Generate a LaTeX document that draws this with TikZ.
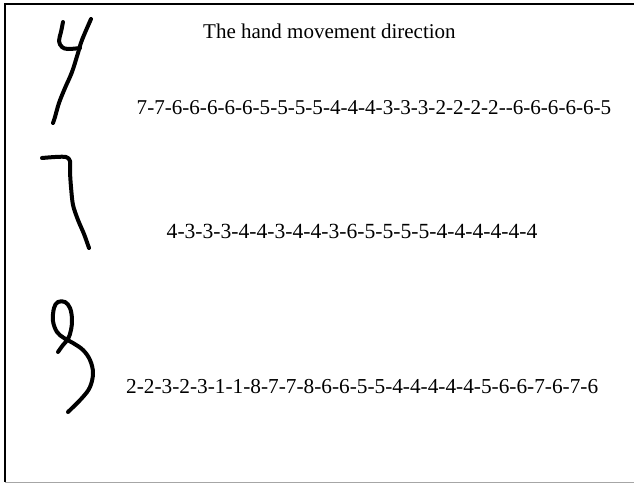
\documentclass[tikz,border=0pt]{standalone}
\usepackage{fontspec}
\setmainfont{Liberation Serif}
\begin{document}
\begin{tikzpicture}[x=1pt,y=-1pt,
  frameline/.style={line width=2pt,black},
  baseline rule/.style={line width=1pt,gray!70},
  ink/.style={line width=4pt,line cap=round,line join=round,black},
  seq/.style={anchor=base west,inner sep=0pt,font=\fontsize{#1}{24}\selectfont},
  title/.style={anchor=base west,inner sep=0pt,font=\fontsize{21}{24}\selectfont}]
\useasboundingbox (0,0) rectangle (634,483);

% frame
\coordinate (tl) at (5,4);
\coordinate (tr) at (634,4);
\coordinate (bl) at (5,482);
\coordinate (br) at (634,482);
\draw[baseline rule] (bl) -- (br);
\draw[frameline] (tr) -- (tl) -- (bl);

% title
\node[title] (head) at (203,38) {The hand movement direction};

% digit 4
\draw[ink] plot[smooth,tension=0.6] coordinates {(63,22) (61,32) (59,41) (62,47) (68,49) (80,48)};
\draw[ink] plot[smooth,tension=0.6] coordinates {(91,19) (82,40) (78,53) (72,72) (65,88) (59,103) (55,117) (53,123)};

% digit 7
\draw[ink] plot[smooth,tension=0.5] coordinates {(42,158) (55,157) (66,157) (70,161) (70,172) (71,187) (73,205) (78,220) (84,234) (89,248)};

% digit 8
\draw[ink] plot[smooth,tension=0.6] coordinates {(58,352) (63,345) (68,339) (71,330) (72,319) (70,308) (65,302) (58,302) (54,308) (53,321) (57,332) (64,338) (73,343) (83,350) (90,360) (93,373) (90,387) (82,398) (68,412)};

% direction sequences
\node[seq=21.1] (s4) at (136.5,114) {7-7-6-6-6-6-6-5-5-5-5-4-4-4-3-3-3-2-2-2-2-{}-6-6-6-6-6-5};
\node[seq=21.6] (s7) at (166.5,238) {4-3-3-3-4-4-3-4-4-3-6-5-5-5-5-4-4-4-4-4-4};
\node[seq=21.3] (s8) at (126,393) {2-2-3-2-3-1-1-8-7-7-8-6-6-5-5-4-4-4-4-4-5-6-6-7-6-7-6};
\end{tikzpicture}
\end{document}
